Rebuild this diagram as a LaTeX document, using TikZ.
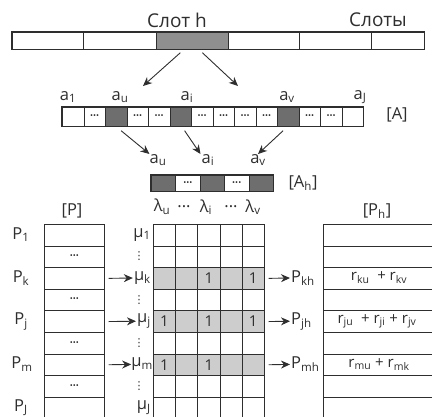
\documentclass[tikz,border=0pt]{standalone}
\usepackage{fontspec}
\setmainfont{Open Sans}
\newfontfamily\dejavu{DejaVu Sans}
\usetikzlibrary{arrows.meta}
\definecolor{ink}{HTML}{2E2E2E}
\definecolor{slotgray}{HTML}{8F8F8F}
\definecolor{darkcell}{HTML}{6E6E6E}
\definecolor{rowgray}{HTML}{CDCDCD}
\begin{document}
\begin{tikzpicture}[x=1pt,y=-1pt,
  lbl/.style={font=\fontsize{16.5}{18}\selectfont, text=ink, inner sep=1pt},
  big/.style={font=\fontsize{19}{21}\selectfont, text=ink, inner sep=1pt},
  small/.style={font=\fontsize{15}{17}\selectfont, text=ink, inner sep=1pt},
  cell/.style={draw=ink, line width=0.7pt, inner sep=0pt, anchor=north west, text=ink, font=\fontsize{8}{8}\selectfont},
  frame/.style={draw=ink, line width=1.1pt},
  arr/.style={-{Stealth[length=9pt,width=8pt]}, line width=0.9pt, draw=ink},
  vdots/.style={font=\dejavu\fontsize{11}{11}\selectfont, text=ink, inner sep=0pt},
]
\useasboundingbox (0,0) rectangle (432,416);
\clip (0,0) rectangle (432,416);

% ---------- top slot bar ----------
\foreach \i/\xa/\xb/\f in {1/12/83/white,2/83/156/white,3/156/228/slotgray,4/228/299/white,5/299/371/white,6/371/424/white}{
  \pgfmathsetmacro\w{\xb-\xa}
  \node[cell, fill=\f, minimum width=\w pt, minimum height=17pt] (s\i) at (\xa,32) {};
}
\draw[frame] (s1.north west) rectangle (s6.south east);
\node[big] (sloth) at (177,20) {Слот h};
\node[big] (slots) at (378,20) {Слоты};

\coordinate (t1) at (143,86);
\coordinate (t2) at (238,86);
\draw[arr] ([xshift=-12pt,yshift=-3pt]s3.south) -- (t1);
\draw[arr] ([xshift=10pt,yshift=-3pt]s3.south) -- (t2);

% ---------- A bar ----------
\foreach \i/\f/\d in {1/white/0,2/white/1,3/darkcell/0,4/white/1,5/white/1,6/darkcell/0,7/white/1,8/white/1,9/white/1,10/white/1,11/darkcell/0,12/white/1,13/white/1,14/white/0}{
  \node[cell, fill=\f, minimum width=21.5pt, minimum height=19pt] (A\i) at ({62+(\i-1)*21.5},107) {\ifnum\d=1 •••\fi};
}
\draw[frame] (A1.north west) rectangle (A14.south east);
\node[lbl] (la1) at (68,97) {a\textsubscript{1}};
\node[lbl] (lau) at (120,97) {a\textsubscript{u}};
\node[lbl] (lai) at (187,97) {a\textsubscript{i}};
\node[lbl] (lav) at (287,97) {a\textsubscript{v}};
\node[lbl] (laJ) at (360,97) {a\textsubscript{J}};
\node[lbl] (Alab) at (397,115) {[A]};

\node[lbl] (bu) at (158,160) {a\textsubscript{u}};
\node[lbl] (bi) at (208,160) {a\textsubscript{i}};
\node[lbl] (bv) at (258,160) {a\textsubscript{v}};
\draw[arr] ([xshift=5pt,yshift=-4pt]A3.south) -- ([xshift=1pt,yshift=-1pt]bu.north west);
\draw[arr] ([xshift=4pt,yshift=-4pt]A6.south) -- ([yshift=-1pt]bi.north west);
\draw[arr] ([xshift=-5pt,yshift=-4pt]A11.south) -- ([yshift=-1pt]bv.north);

% ---------- A_h bar ----------
\foreach \i/\f/\d in {1/darkcell/0,2/white/1,3/darkcell/0,4/white/1,5/darkcell/0}{
  \node[cell, fill=\f, minimum width=24.4pt, minimum height=16pt] (H\i) at ({151+(\i-1)*24.4},175) {\ifnum\d=1 •••\fi};
}
\draw[frame] (H1.north west) rectangle (H5.south east);
\node[lbl] (Ahlab) at (303,183) {[A\textsubscript{h}]};

% ---------- P column ----------
\foreach \r/\d in {1/0,2/1,3/0,4/1,5/0,6/1,7/0,8/1,9/0,10/0}{
  \node[cell, minimum width=60pt, minimum height=21.6pt] (P\r) at (44,{224+(\r-1)*21.6}) {\ifnum\d=1 •••\fi};
}
\node[lbl] (Plab) at (72,211) {[P]};
\node[lbl] (lP1) at (21,{224+0.5*21.6}) {P\textsubscript{1}};
\node[lbl] (lPk) at (21,{224+2.5*21.6}) {P\textsubscript{k}};
\node[lbl] (lPj) at (21,{224+4.5*21.6}) {P\textsubscript{j}};
\node[lbl] (lPm) at (22,{224+6.5*21.6}) {P\textsubscript{m}};
\node[lbl] (lPJ) at (21,{224+8.5*21.6}) {P\textsubscript{J}};

% ---------- matrix ----------
\foreach \r/\f in {1/white,2/white,3/rowgray,4/white,5/rowgray,6/white,7/rowgray,8/white,9/white,10/white}{
  \foreach \c in {1,...,5}{
    \node[cell, fill=\f, minimum width=22.2pt, minimum height=21.6pt] (M-\r-\c) at ({153+(\c-1)*22.2},{224+(\r-1)*21.6}) {};
  }
}
\foreach \r/\c in {3/3,3/5,5/1,5/3,5/5,7/1,7/3}{
  \node[lbl, font=\fontsize{15}{17}\selectfont] at (M-\r-\c) {1};
}
\node[lbl] (lamu) at (162,207) {λ\textsubscript{u}};
\node[lbl] (ld1) at (184,207) {...};
\node[lbl] (lami) at (206,207) {λ\textsubscript{i}};
\node[lbl] (ld2) at (231,207) {...};
\node[lbl] (lamv) at (253,207) {λ\textsubscript{v}};

\node[lbl, anchor=east] (mu1) at (152,{224+0.5*21.6}) {μ\textsubscript{1}};
\node[lbl, anchor=east] (muk) at (152,{224+2.5*21.6}) {μ\textsubscript{k}};
\node[lbl, anchor=east] (muj) at (152,{224+4.5*21.6}) {μ\textsubscript{j}};
\node[lbl, anchor=east, inner sep=0pt] (mum) at (153,{224+6.5*21.6}) {μ\textsubscript{m}};
\node[lbl, anchor=east] (muJ) at (152,{224+8.5*21.6}) {μ\textsubscript{J}};
\foreach \r in {2,4,6,8}{
  \node[vdots] (vd\r) at (139,{224+(\r-0.5)*21.6}) {⋮};
}
\draw[arr] ([xshift=4pt]P3.east) -- (muk.west);
\draw[arr] ([xshift=4pt]P5.east) -- (muj.west);
\draw[arr] ([xshift=4pt]P7.east) -- (mum.west);

% ---------- right labels ----------
\node[lbl, anchor=west] (Pkh) at (290,{224+2.5*21.6}) {P\textsubscript{kh}};
\node[lbl, anchor=west] (Pjh) at (290,{224+4.5*21.6}) {P\textsubscript{jh}};
\node[lbl, anchor=west] (Pmh) at (290,{224+6.5*21.6}) {P\textsubscript{mh}};
\draw[arr] ([xshift=4pt]M-3-5.east) -- (Pkh.west);
\draw[arr] ([xshift=4pt]M-5-5.east) -- (Pjh.west);
\draw[arr] ([xshift=4pt]M-7-5.east) -- (Pmh.west);

% ---------- P_h column ----------
\foreach \r in {1,...,10}{
  \node[cell, minimum width=120pt, minimum height=21.6pt] (Q\r) at (323,{224+(\r-1)*21.6}) {};
}
\node[lbl] (Phlab) at (377,211) {[P\textsubscript{h}]};
\node[small] (qk) at (379,{224+2.5*21.6}) {r\textsubscript{ku} \ + r\textsubscript{kv}};
\node[small] (qj) at (377,{224+4.5*21.6}) {r\textsubscript{ju} \ + r\textsubscript{ji} + r\textsubscript{jv}};
\node[small] (qm) at (379,{224+6.5*21.6}) {r\textsubscript{mu} + r\textsubscript{mk}};
\end{tikzpicture}
\end{document}
